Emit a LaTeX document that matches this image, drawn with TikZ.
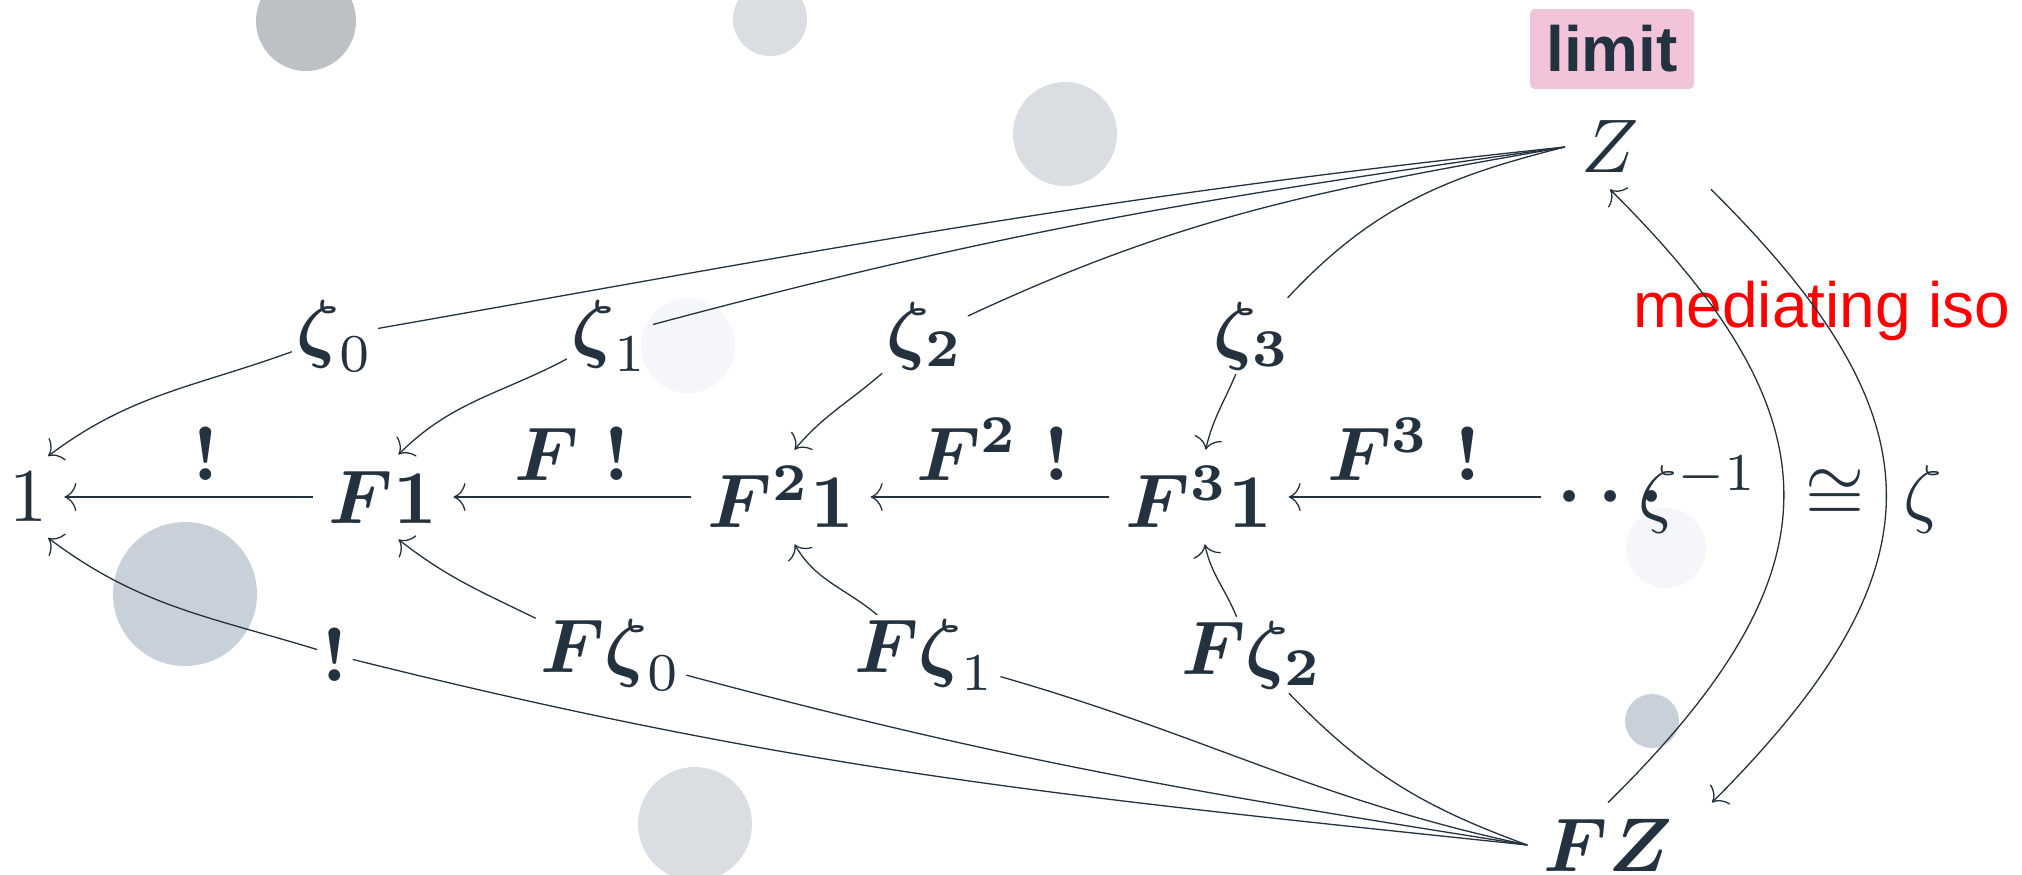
\documentclass[tikz,border=0pt]{standalone}
\usepackage{amsmath}
\usepackage{graphicx}
\usepackage{fontspec}
\newfontfamily\sanslib{Liberation Sans}
\usetikzlibrary{arrows.meta,calc}
\newcommand{\mth}[1]{\scalebox{3.8}{$#1$}}
\definecolor{ink}{HTML}{24313E}
\definecolor{cA}{HTML}{BDC1C5}
\definecolor{cB}{HTML}{DADEE2}
\definecolor{cC}{HTML}{F4F6FA}
\definecolor{cD}{HTML}{C8D1D9}
\definecolor{pinkbox}{HTML}{F2C4DA}
\definecolor{isored}{HTML}{FF0000}
\begin{document}
\begin{tikzpicture}[x=0.5pt,y=-0.5pt,
  obj/.style={inner sep=8pt, text=ink},
  lab/.style={inner sep=2pt, text=ink},
  arr/.style={draw=ink, line width=0.65pt, -{Computer Modern Rightarrow[length=6pt,width=14pt]}}]
\useasboundingbox (0,0) rectangle (2022,874);
% background discs
\fill[cA] (306,21) circle[radius=25pt];
\fill[cB] (770,19) circle[radius=18.5pt];
\fill[cB] (1065,134) circle[radius=26pt];
\fill[cC] (688,346) circle[radius=23.5pt];
\fill[cD] (185,594) circle[radius=36pt];
\fill[cB] (695,824) circle[radius=28.5pt];
\fill[cC] (1666,548) circle[radius=20pt];
\fill[cD] (1652,721) circle[radius=13.5pt];
% objects
\node[obj] (one) at (29,497) {\mth{1}};
\node[obj] (F1) at (383,497) {\mth{\boldsymbol{F1}}};
\node[obj] (F2) at (781,497) {\mth{\boldsymbol{F^2 1}}};
\node[obj] (F3) at (1199,497) {\mth{\boldsymbol{F^3 1}}};
\node[obj] (dots) at (1611,497) {\mth{{\boldsymbol{\cdot}}\mkern4mu{\boldsymbol{\cdot}}\mkern4mu{\boldsymbol{\cdot}}}};
\node[obj] (Z) at (1610,147) {\mth{Z}};
\node[obj] (FZ) at (1608,845) {\mth{\boldsymbol{FZ}}};
% labels
\node[lab] (z0) at (335,336) {\mth{\boldsymbol{\zeta}_0}};
\node[lab] (z1) at (610,336) {\mth{\boldsymbol{\zeta}_1}};
\node[lab] (z2) at (925,336) {\mth{\boldsymbol{\zeta_2}}};
\node[lab] (z3) at (1252,336) {\mth{\boldsymbol{\zeta_3}}};
\node[lab] (Fz0) at (611,655) {\mth{\boldsymbol{F\zeta}_0}};
\node[lab] (Fz1) at (925,655) {\mth{\boldsymbol{F\zeta}_1}};
\node[lab] (Fz2) at (1252,655) {\mth{\boldsymbol{F\zeta_2}}};
\node[lab] (bang) at (335,655) {\mth{\boldsymbol{!}}};
\node[lab,anchor=base] (l0) at (206,480) {\mth{\boldsymbol{!}}};
\node[lab,anchor=base] (l1) at (572,480) {\mth{\boldsymbol{F\;!}}};
\node[lab,anchor=base] (l2) at (993,480) {\mth{\boldsymbol{F^2\;!}}};
\node[lab,anchor=base] (l3) at (1404,480) {\mth{\boldsymbol{F^3\;!}}};
\node[lab,anchor=base east,inner sep=0pt] (zinv) at (1759,518) {\mth{\zeta^{-1}}};
\node[lab,anchor=base,inner sep=0pt] (iso) at (1835,518) {\mth{\cong}};
\node[lab,anchor=base west,inner sep=0pt] (zeta) at (1903,518) {\mth{\zeta}};
\node[fill=pinkbox, rounded corners=2.5pt, minimum width=82pt, minimum height=40pt, inner sep=0pt, text=ink,
      font=\sanslib\bfseries\fontsize{32}{38}\selectfont] (limit) at (1612,49) {limit};
\node[text=isored, anchor=base, inner sep=0pt, font=\sanslib\fontsize{32}{38}\selectfont] (med) at (1822,327) {mediating iso};
% horizontal chain
\draw[arr] (F1) -- (one);
\draw[arr] (F2) -- (F1);
\draw[arr] (F3) -- (F2);
\draw[arr] (dots) -- (F3);
% cone from Z
\draw[arr] (Z.west) to[out=186,in=10] (z0) to[out=200,in=37] (one.65);
\draw[arr] (Z.west) to[out=188,in=15] (z1) to[out=208,in=45] (F1.70);
\draw[arr] (Z.west) to[out=190,in=25] (z2) to[out=221,in=50] (F2.74);
\draw[arr] (Z.west) to[out=194,in=47] (z3) to[out=247,in=77] (F3.82);
% cone from FZ
\draw[arr] (FZ.west) to[out=174,in=-14] (bang) to[out=163,in=-37] (one.-65);
\draw[arr] (FZ.west) to[out=171,in=-15] (Fz0) to[out=154,in=-38] (F1.-70);
\draw[arr] (FZ.west) to[out=168,in=-16] (Fz1) to[out=140,in=-60] (F2.-74);
\draw[arr] (FZ.west) to[out=160,in=-46] (Fz2) to[out=112,in=-78] (F3.-83);
% mediating iso
\coordinate (zs) at ($(Z.south)+(101,0)$);
\coordinate (fzn) at ($(FZ.north)+(104,0)$);
\draw[arr] (FZ.north) .. controls (1843,571) and (1841,419) .. (Z.south);
\draw[arr] (zs) .. controls (1944,420) and (1945,569) .. (fzn);
\end{tikzpicture}
\end{document}
